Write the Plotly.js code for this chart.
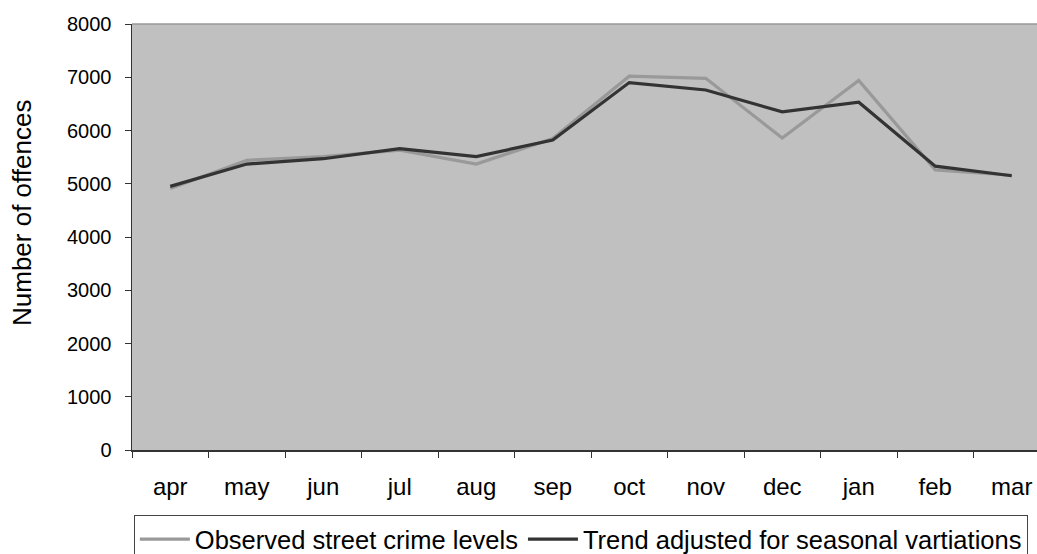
<!DOCTYPE html>
<html>
<head>
<meta charset="utf-8">
<script src="https://cdn.plot.ly/plotly-3.0.1.min.js"></script>
<style>
  html, body { margin: 0; padding: 0; overflow: hidden; background: #fff; }
  #chart { width: 1052px; height: 570px; }
</style>
</head>
<body>
<div id="chart"></div>
<script>
var months = ['apr', 'may', 'jun', 'jul', 'aug', 'sep', 'oct', 'nov', 'dec', 'jan', 'feb', 'mar'];
var observed = [4910, 5440, 5510, 5630, 5370, 5850, 7020, 6980, 5860, 6940, 5260, 5160];
var trend = [4950, 5370, 5470, 5660, 5510, 5820, 6900, 6760, 6350, 6530, 5330, 5150];
var yTicks = [0, 1000, 2000, 3000, 4000, 5000, 6000, 7000, 8000];

var trace1 = {
    x: months,
    y: observed,
    name: 'Observed street crime levels',
    type: 'scatter',
    mode: 'lines',
    line: {color: '#999999', width: 3.2}
};

var trace2 = {
    x: months,
    y: trend,
    name: 'Trend adjusted for seasonal vartiations',
    type: 'scatter',
    mode: 'lines',
    line: {color: '#333333', width: 3.2}
};

var data = [trace1, trace2];

var font = 'Arial, "Liberation Sans", sans-serif';

var layout = {
    width: 1052,
    height: 570,
    margin: {l: 132, r: 2, t: 24, b: 120},
    paper_bgcolor: '#ffffff',
    plot_bgcolor: '#c0c0c0',
    font: {family: font, color: '#000000'},
    showlegend: true,
    xaxis: {
        type: 'category',
        range: [-0.5, 11.5],
        tickson: 'boundaries',
        ticks: 'outside',
        ticklen: 6,
        tickwidth: 1,
        tickcolor: '#333333',
        showline: true,
        linecolor: '#333333',
        linewidth: 1.5,
        showgrid: false,
        zeroline: false,
        tickfont: {size: 24, family: font},
        ticklabelstandoff: 15
    },
    yaxis: {
        range: [0, 8000],
        tickvals: yTicks,
        ticktext: yTicks.map(String),
        ticks: 'outside',
        ticklen: 6,
        tickwidth: 1,
        tickcolor: '#333333',
        showline: true,
        linecolor: '#333333',
        linewidth: 1.5,
        showgrid: false,
        zeroline: false,
        tickfont: {size: 20, family: font},
        ticklabelstandoff: 9
    },
    shapes: [{
        type: 'line', xref: 'paper', yref: 'paper',
        x0: 0, x1: 1, y0: 1, y1: 1,
        line: {color: '#999999', width: 1.5}
    }],
    annotations: [{
        text: 'Number of offences',
        xref: 'paper', yref: 'paper',
        x: -0.12, y: 0.556,
        xanchor: 'center', yanchor: 'middle',
        textangle: -90,
        showarrow: false,
        font: {size: 26, family: font}
    }],
    legend: {
        orientation: 'h',
        x: 0.002, y: -0.1526,
        xanchor: 'left', yanchor: 'top',
        bordercolor: '#444444',
        borderwidth: 1,
        bgcolor: '#ffffff',
        itemwidth: 50,
        font: {size: 25.5, family: font}
    }
};

Plotly.newPlot('chart', data, layout, {displayModeBar: false, staticPlot: true});
</script>
</body>
</html>
